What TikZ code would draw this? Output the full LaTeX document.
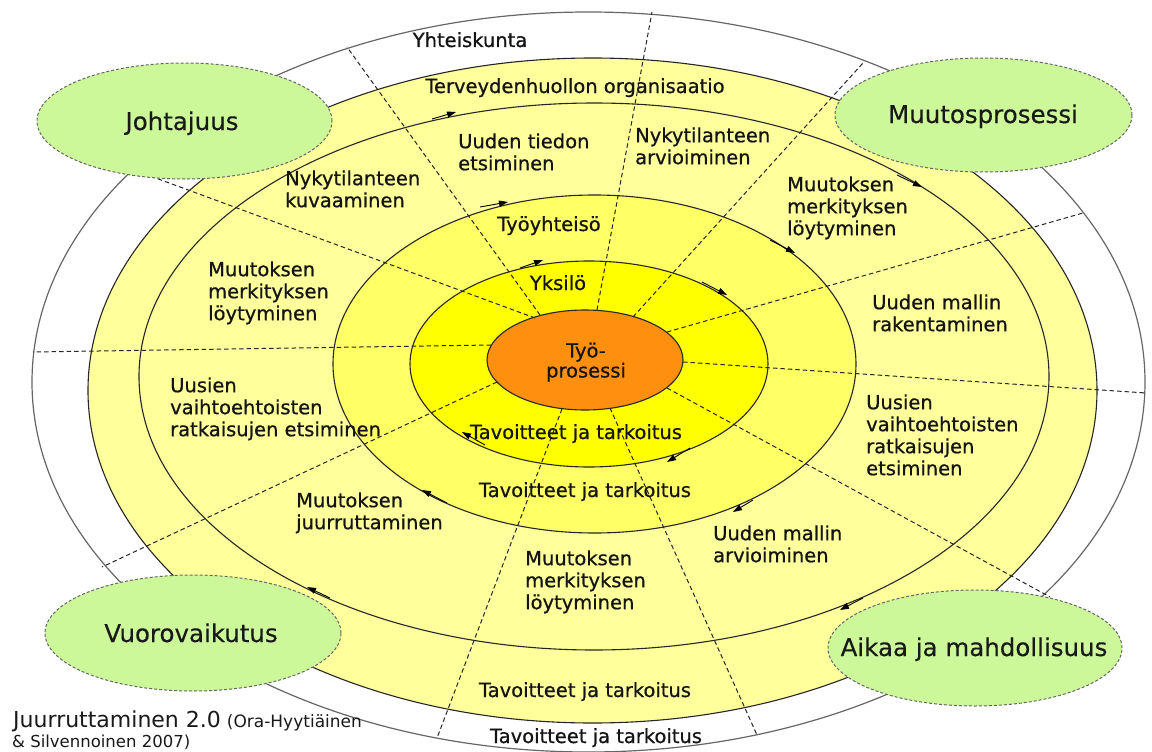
\documentclass[tikz,border=0pt]{standalone}
\usepackage{fontspec}
\setmainfont{DejaVu Sans}
\newfontfamily\labfont{DejaVu Sans}[FakeBold=0.7]
\newfontfamily\bubfont{DejaVu Sans}[FakeBold=0.3]
\usetikzlibrary{shapes.geometric,arrows.meta}
\definecolor{paleY}{HTML}{FFFF9C}
\definecolor{midY}{HTML}{FFFF66}
\definecolor{strongY}{HTML}{FFFF00}
\definecolor{orangeC}{HTML}{FF8F0F}
\definecolor{greenC}{HTML}{CCF89A}
\begin{document}
\begin{tikzpicture}[x=1pt,y=-1pt,
  ring/.style={draw=black!85, line width=1.1pt},
  spoke/.style={draw=black!85, line width=1pt, dash pattern=on 4.5pt off 3pt},
  flow/.style={draw=black, line width=0.9pt, -{Triangle[length=9pt,width=6pt]}},
  lab/.style={font=\labfont\fontsize{19.5}{22}\selectfont, inner sep=0pt, text=black!92},
  labl/.style={lab, align=left, anchor=north west},
  labc/.style={lab, anchor=base},
  bubble/.style={ellipse, draw=black!60, line width=1pt, dash pattern=on 3pt off 2pt,
    fill=greenC, inner sep=0pt},
  bublab/.style={inner sep=0pt, anchor=base, font=\bubfont\fontsize{24.5}{28}\selectfont, text=black!90}
]
\useasboundingbox (0,0) rectangle (1152,752);
\fill[white] (0,0) rectangle (1152,752);

% rings
\draw[draw=black!60, line width=1.2pt, fill=white] (588.5,382) ellipse [x radius=556.5pt, y radius=370pt];
\draw[ring, fill=paleY] (592.5,390.5) ellipse [x radius=504.5pt, y radius=332.5pt];
\draw[ring, fill=paleY] (594,376.5) ellipse [x radius=455pt, y radius=273.5pt];
\draw[ring, fill=midY] (594.5,364) ellipse [x radius=261.5pt, y radius=169pt];
\draw[ring, fill=strongY] (589,364) ellipse [x radius=179pt, y radius=103pt];
\draw[ring, fill=orangeC] (585,360) ellipse [x radius=98pt, y radius=50pt];

% spokes
\foreach \i/\ax/\ay/\bx/\by in {
  1/540/315/347/47, 2/597/310/652/12, 3/633/317/863/63, 4/667/332/1083/213,
  5/683/362/1146/393, 6/667/388/1050/597, 7/610/408/757/735, 8/562/409/437/738,
  9/497/382/102/567, 10/491/345/33/352, 11/535/318/134/170}{
  \coordinate (sa\i) at (\ax,\ay);
  \coordinate (sb\i) at (\bx,\by);
  \draw[spoke] (sa\i) -- (sb\i);
}

% flow arrows (clockwise)
\foreach \ax/\ay/\bx/\by in {
  432/119/456/112, 897/175/922/187, 863/598/840/610, 330/598/307/587,
  480/207/508/202, 770/240/795/253, 753/500/733/512, 447/503/422/490,
  520/268/543/260, 702/282/727/295, 690/448/667/462, 485/445/462/432}{
  \draw[flow] (\ax,\ay) -- (\bx,\by);
}

% ring labels
\node[labc] (yht) at (470,47) {Yhteiskunta};
\node[labc] (ter) at (575,93) {Terveydenhuollon organisaatio};
\node[labc] (tyy) at (549,231) {Työyhteisö};
\node[labc] (yks) at (558,290) {Yksilö};
\node[lab, align=center, anchor=north, font=\labfont\fontsize{19.5}{20}\selectfont] (tp) at (586,342.5) {Työ-\\prosessi};
\node[labc] (tav1) at (576,439) {Tavoitteet ja tarkoitus};
\node[labc] (tav2) at (585,497) {Tavoitteet ja tarkoitus};
\node[labc] (tav3) at (585,697) {Tavoitteet ja tarkoitus};
\node[labc] (tav4) at (596,743) {Tavoitteet ja tarkoitus};

% sector labels
\node[labl] (l1) at (458,133.2) {Uuden tiedon\\etsiminen};
\node[labl] (l2) at (635,127.2) {Nykytilanteen\\arvioiminen};
\node[labl] (l3) at (285,170.2) {Nykytilanteen\\kuvaaminen};
\node[labl] (l4) at (208,261.2) {Muutoksen\\merkityksen\\löytyminen};
\node[labl] (l5) at (787,176.2) {Muutoksen\\merkityksen\\löytyminen};
\node[labl] (l6) at (872,294.2) {Uuden mallin\\rakentaminen};
\node[labl] (l7) at (170,377.2) {Uusien\\vaihtoehtoisten\\ratkaisujen etsiminen};
\node[labl] (l8) at (866,394.2) {Uusien\\vaihtoehtoisten\\ratkaisujen\\etsiminen};
\node[labl] (l9) at (296,492.2) {Muutoksen\\juurruttaminen};
\node[labl] (l10) at (713,525.2) {Uuden mallin\\arvioiminen};
\node[labl] (l11) at (525,550.2) {Muutoksen\\merkityksen\\löytyminen};

% green bubbles
\node[bubble, minimum width=295pt, minimum height=116pt] (joh) at (184.5,121) {};
\node[bubble, minimum width=297pt, minimum height=114pt] (muu) at (983.5,115) {};
\node[bubble, minimum width=296pt, minimum height=116pt] (vuo) at (193,633) {};
\node[bubble, minimum width=294pt, minimum height=116pt] (aik) at (975,648) {};
\node[bublab] (johl) at (182,130) {Johtajuus};
\node[bublab] (muul) at (983,123) {Muutosprosessi};
\node[bublab] (vuol) at (191,642) {Vuorovaikutus};
\node[bublab] (aikl) at (974,656) {Aikaa ja mahdollisuus};

% caption
\node[inner sep=0pt, anchor=base west, text=black!90] (cap1) at (13,727)
  {{\fontsize{22}{24}\selectfont Juurruttaminen 2.0}\hspace{6pt}{\fontsize{17}{20}\selectfont (Ora-Hyytiäinen}};
\node[inner sep=0pt, anchor=base west, text=black!90, font=\fontsize{16.5}{19}\selectfont] (cap2) at (12,747)
  {\& Silvennoinen 2007)};
\end{tikzpicture}
\end{document}
